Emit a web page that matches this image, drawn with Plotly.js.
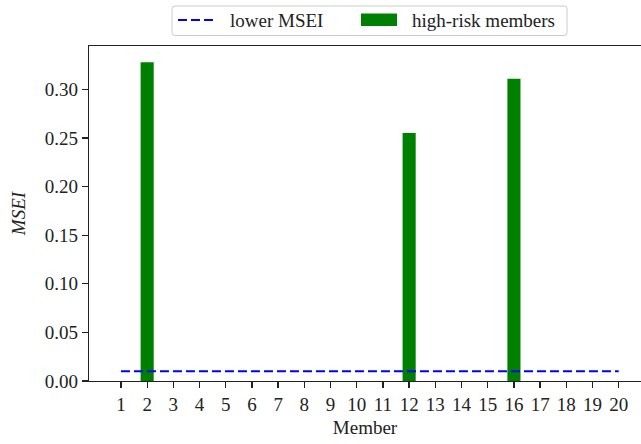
<!DOCTYPE html>
<html>
<head>
<meta charset="utf-8">
<script src="https://cdn.plot.ly/plotly-3.0.1.min.js"></script>
<style>
  html, body { margin: 0; padding: 0; background: #fff; overflow: hidden; }
  #chart { width: 641px; height: 444px; }
</style>
</head>
<body>
<div id="chart"></div>
<script>
// Member indices shown on the x axis
const members = [1, 2, 3, 4, 5, 6, 7, 8, 9, 10, 11, 12, 13, 14, 15, 16, 17, 18, 19, 20];
const memberLabels = ["1", "2", "3", "4", "5", "6", "7", "8", "9", "10",
                      "11", "12", "13", "14", "15", "16", "17", "18", "19", "20"];

// Members flagged as high risk and their MSEI values
const highRiskMembers = [2, 12, 16];
const highRiskMsei = [0.328, 0.255, 0.311];

// Lower MSEI threshold, spanning the first to the last member
const lowerMseiX = [1, 20];
const lowerMseiY = [0.01, 0.01];

// Legend entry names
const lineName = "lower MSEI";
const barName = "high-risk members";

const FONT = "Liberation Serif";
const INK = "#222222";
const LINE_COLOR = "#0000ff";
const BAR_COLOR = "#008000";
const LINE_DASH = "9px,4px";

// Figure geometry
const W = 641, H = 444;
const M = { l: 89, r: 0, t: 46, b: 63 };
const plotW = W - M.l - M.r;
const plotH = H - M.t - M.b;
// convert page pixels into paper coordinates
const px = x => (x - M.l) / plotW;
const py = y => (H - M.b - y) / plotH;

const traces = [
  {
    type: "bar",
    name: barName,
    x: highRiskMembers,
    y: highRiskMsei,
    width: 0.5,
    marker: { color: BAR_COLOR, line: { width: 0 } },
    showlegend: false
  },
  {
    type: "scatter",
    mode: "lines",
    name: lineName,
    x: lowerMseiX,
    y: lowerMseiY,
    line: { color: LINE_COLOR, width: 2, dash: LINE_DASH },
    showlegend: false
  }
];

// Legend frame with rounded corners, drawn above the axes
function roundedBox(x0, y0, x1, y1, r) {
  const rx = r / plotW, ry = r / plotH;
  const L = px(x0), R = px(x1), T = py(y0), B = py(y1);
  return `M${L + rx},${T} L${R - rx},${T} Q${R},${T} ${R},${T - ry} ` +
         `L${R},${B + ry} Q${R},${B} ${R - rx},${B} ` +
         `L${L + rx},${B} Q${L},${B} ${L},${B + ry} ` +
         `L${L},${T - ry} Q${L},${T} ${L + rx},${T} Z`;
}

const legendBox = { x0: 172, y0: 6, x1: 567, y1: 35.5 };
const legendMidY = 20;

const shapes = [
  {
    type: "path",
    xref: "paper", yref: "paper",
    path: roundedBox(legendBox.x0, legendBox.y0, legendBox.x1, legendBox.y1, 3),
    fillcolor: "rgba(255,255,255,0.8)",
    line: { color: "#cccccc", width: 1 }
  },
  {
    type: "line",
    xref: "paper", yref: "paper",
    x0: px(178), x1: px(215), y0: py(legendMidY), y1: py(legendMidY),
    line: { color: LINE_COLOR, width: 2, dash: LINE_DASH }
  },
  {
    type: "rect",
    xref: "paper", yref: "paper",
    x0: px(361), x1: px(397), y0: py(13.5), y1: py(26),
    fillcolor: BAR_COLOR,
    line: { width: 0 }
  }
];

const annotations = [
  { text: lineName, x: px(229), y: py(legendMidY) },
  { text: barName, x: px(411), y: py(legendMidY) }
].map(a => Object.assign({
  xref: "paper", yref: "paper",
  xanchor: "left", yanchor: "middle",
  showarrow: false, borderpad: 0,
  font: { family: FONT, size: 19, color: INK }
}, a));

const layout = {
  width: W,
  height: H,
  margin: M,
  paper_bgcolor: "#ffffff",
  plot_bgcolor: "#ffffff",
  font: { family: FONT, size: 19, color: INK },
  showlegend: false,
  shapes: shapes,
  annotations: annotations,
  xaxis: {
    range: [-0.22, 20.85],
    tickmode: "array",
    tickvals: members,
    ticktext: memberLabels,
    ticks: "outside",
    ticklen: 6,
    tickwidth: 1.3,
    tickcolor: INK,
    showline: true,
    linecolor: INK,
    linewidth: 1.3,
    mirror: true,
    showgrid: false,
    zeroline: false,
    tickfont: { family: FONT, size: 19, color: INK },
    title: { text: "Member", font: { family: FONT, size: 19, color: INK }, standoff: 6 }
  },
  yaxis: {
    range: [0, 0.3446],
    tick0: 0,
    dtick: 0.05,
    tickformat: ".2f",
    ticks: "outside",
    ticklen: 6,
    tickwidth: 1.3,
    tickcolor: INK,
    showline: true,
    linecolor: INK,
    linewidth: 1.3,
    mirror: false,
    showgrid: false,
    zeroline: false,
    tickfont: { family: FONT, size: 19, color: INK },
    title: { text: "<i>MSEI</i>", font: { family: FONT, size: 19, color: INK }, standoff: 14 }
  }
};

Plotly.newPlot("chart", traces, layout, { staticPlot: true, displayModeBar: false });
</script>
</body>
</html>
